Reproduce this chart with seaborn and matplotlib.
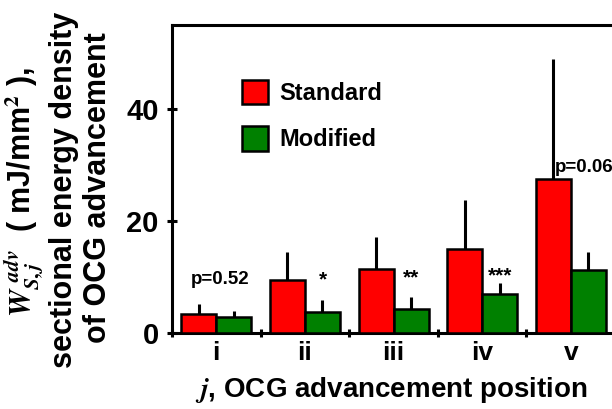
import pandas as pd
import seaborn as sns
import matplotlib.pyplot as plt
from matplotlib.patches import Patch

positions = ["i", "ii", "iii", "iv", "v"]
groups = ["Standard", "Modified"]
standard_mean = [3.3, 9.5, 11.4, 15.0, 27.4]
standard_sd = [1.8, 4.9, 5.7, 8.7, 21.5]
modified_mean = [2.9, 3.7, 4.3, 7.0, 11.2]
modified_sd = [1.0, 2.2, 2.2, 2.0, 3.2]
marks = ["p=0.52", "*", "**", "***", "p=0.06"]

colors = ["#FF0000", "#008000"]

sns.set_style("ticks")
plt.rcParams["font.family"] = ["Liberation Sans", "DejaVu Sans"]
plt.rcParams["font.weight"] = "bold"
plt.rcParams["mathtext.fontset"] = "stix"
plt.rcParams["text.color"] = "black"
plt.rcParams["axes.labelcolor"] = "black"
plt.rcParams["xtick.color"] = "black"
plt.rcParams["ytick.color"] = "black"
plt.rcParams["axes.edgecolor"] = "black"

df = pd.DataFrame({
    "position": positions * 2,
    "group": ["Standard"] * 5 + ["Modified"] * 5,
    "value": standard_mean + modified_mean,
})

fig = plt.figure(figsize=(6.12, 4.09), dpi=100)
ax = fig.add_axes([0.281, 0.186, 0.724, 0.753])

sns.barplot(data=df, x="position", y="value", hue="group", hue_order=groups,
            palette=colors, saturation=1, edgecolor="black", linewidth=1.8, width=0.79,
            errorbar=None, legend=False, ax=ax, zorder=3)

# one-sided error bars on top of each bar
for cont, sd in zip(ax.containers, [standard_sd, modified_sd]):
    xs = [b.get_x() + b.get_width() / 2 for b in cont]
    ys = [b.get_height() for b in cont]
    ax.errorbar(xs, ys, yerr=[[0] * len(sd), sd], fmt="none", ecolor="black",
                elinewidth=2.2, capsize=0, zorder=2)

# significance labels
ax.text(0.04, 9.6, marks[0], ha="center", va="center", fontsize=13.5, fontweight="bold")
ax.text(1.2, 9.4, marks[1], ha="center", va="center", fontsize=15, fontweight="bold")
ax.text(2.2, 9.9, marks[2], ha="center", va="center", fontsize=15, fontweight="bold")
ax.text(3.2, 10.1, marks[3], ha="center", va="center", fontsize=15, fontweight="bold")
ax.text(3.82, 29.5, marks[4], ha="left", va="center", fontsize=13.5, fontweight="bold")

ax.set_xlim(-0.5, 4.5)
ax.set_ylim(0, 55)
ax.set_yticks([0, 20, 40])
ax.set_xticks([-0.5, 0.5, 1.5, 2.5, 3.5, 4.5], minor=True)
ax.tick_params(axis="x", which="major", length=0, labelsize=19, pad=6)
ax.tick_params(axis="x", which="minor", length=6, width=2.2, direction="inout")
ax.tick_params(axis="y", length=7, width=2.2, labelsize=21, direction="inout", pad=6)
for lab in ax.get_xticklabels() + ax.get_yticklabels():
    lab.set_fontweight("bold")

for side in ["left", "bottom", "top", "right"]:
    ax.spines[side].set_visible(True)
    ax.spines[side].set_linewidth(2.2)

ax.set_xlabel("")
ax.set_ylabel("")
fig.text(0.64, 1 - 397 / 409, r"$j$, OCG advancement position", ha="center", va="baseline",
         fontsize=20, fontweight="bold")

fig.text(24 / 612, 1 - 192 / 409, r"$W_{S,j}^{\ adv}$  ( mJ/mm$^\mathbf{2}$ ),", rotation=90,
         ha="center", va="center", fontsize=22, fontweight="bold")
fig.text(64 / 612, 1 - 190 / 409, "sectional energy density", rotation=90,
         ha="center", va="center", fontsize=22, fontweight="bold")
fig.text(98 / 612, 1 - 188 / 409, "of OCG advancement", rotation=90,
         ha="center", va="center", fontsize=22, fontweight="bold")

handles = [Patch(facecolor=c, edgecolor="black", linewidth=1.8) for c in colors]
ax.legend(handles, groups, loc="upper left", bbox_to_anchor=(0.11, 0.89), frameon=False,
          prop={"size": 17, "weight": "bold"}, handlelength=1.1, handleheight=1.2,
          handletextpad=0.5, labelspacing=0.9)

fig.savefig("out.png", dpi=100)
